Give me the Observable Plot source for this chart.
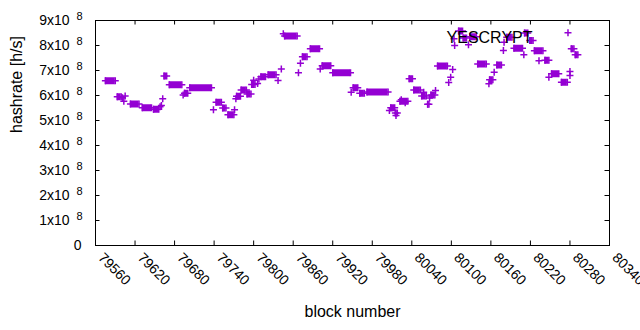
<!DOCTYPE html>
<html><head><meta charset="utf-8">
<script src="https://cdn.jsdelivr.net/npm/d3@7"></script>
<script src="https://cdn.jsdelivr.net/npm/@observablehq/plot@0.6"></script>
<style>
body{margin:0;background:#fff}
svg{font-family:"Liberation Sans",Arial,sans-serif}
</style>
</head><body><div id="chart"></div>
<script>
// Runs of consecutive blocks sharing the same hashrate (units: 1e8 h/s)
const runStart = [79575,79593,79613,79631,79648,79664,79672,79695,79703,79743,79753,79761,79774,79781,79790,79797,79811,79822,79847,79874,79886,79904,79920,79951,79961,79972,80008,80015,80022,80036,80043,80055,80064,80069,80079,80111,80118,80128,80140,80158,80169,80184,80195,80211,80219,80226,80242,80252,80267,80282,80288];
const runEnd   = [79590,79599,79626,79645,79656,79668,79691,79700,79736,79751,79758,79770,79780,79789,79796,79802,79818,79834,79866,79881,79900,79917,79947,79958,79968,80004,80014,80018,80034,80041,80053,80062,80066,80075,80094,80117,80123,80138,80153,80163,80176,80192,80208,80216,80224,80239,80248,80263,80276,80286,80292];
const runValue = [6.59,5.95,5.66,5.51,5.45,6.78,6.43,6.09,6.31,5.73,5.50,5.23,5.97,6.22,6.06,6.44,6.75,6.83,8.38,7.55,7.87,7.19,6.91,6.31,6.09,6.14,5.51,5.30,5.77,6.67,6.22,5.98,5.65,6.02,7.18,8.58,8.30,8.35,7.26,6.63,7.22,8.33,7.89,8.50,8.20,7.79,7.41,6.87,6.53,7.87,7.63];

// Isolated blocks
const pointBlock = [79601,79603,79605,79658,79660,79662,79693,79739,79771,79773,79800,79806,79808,79837,79842,79845,79868,79871,79901,79948,80006,80016,80024,80030,80058,80067,80076,80096,80099,80102,80104,80105,80126,80157,80165,80179,80180,80210,80233,80248,80277,80280,80280];
const pointValue = [5.91,5.77,5.98,5.55,5.60,5.87,6.02,5.43,5.43,5.87,6.61,6.48,6.66,6.60,7.06,8.47,6.91,7.29,7.06,6.13,5.40,5.20,5.83,5.71,6.13,5.90,6.20,6.52,6.73,7.04,8.27,8.00,8.03,6.47,6.93,7.80,8.13,7.63,7.39,6.73,8.51,6.96,6.80];

const xTicks = [79560,79620,79680,79740,79800,79860,79920,79980,80040,80100,80160,80220,80280,80340];
const yTicks = [0,1,2,3,4,5,6,7,8,9];
const yExponent = "8";
const seriesName = "YESCRYPT";
const xLabel = "block number";
const yLabel = "hashrate [h/s]";

const color = "#9400d3";
const runs = runStart.map((s, i) => ({s, e: runEnd[i], v: runValue[i]}));
const runEnds = runs.flatMap(r => [{x: r.s, y: r.v}, {x: r.e, y: r.v}]);
const points = pointBlock.map((b, i) => ({x: b, y: pointValue[i]}));

const cross = {draw(ctx, size) {
  const r = Math.sqrt(size / Math.PI);
  ctx.moveTo(-r, 0); ctx.lineTo(r, 0);
  ctx.moveTo(0, -r); ctx.lineTo(0, r);
}};

const xMin = xTicks[0], xMax = xTicks[xTicks.length - 1];
const yMin = yTicks[0], yMax = yTicks[yTicks.length - 1];
const tkX = 6.8, tkY = 0.18;
const innerX = xTicks.slice(1, -1), innerY = yTicks.slice(1, -1);

const chart = Plot.plot({
  width: 640, height: 330,
  marginLeft: 95, marginRight: 31, marginTop: 20, marginBottom: 85,
  x: {domain: [xMin, xMax], axis: null},
  y: {domain: [yMin, yMax], axis: null},
  style: {fontFamily: "Liberation Sans, Arial, sans-serif", fontSize: "14px", background: "#fff"},
  marks: [
    Plot.ruleY(runs, {y: "v", x1: "s", x2: "e", stroke: color, strokeWidth: 7}),
    Plot.dot(runEnds, {x: "x", y: "y", symbol: cross, r: 3.5, stroke: color, fill: "none", strokeWidth: 1.5}),
    Plot.dot(points, {x: "x", y: "y", symbol: cross, r: 3.5, stroke: color, fill: "none", strokeWidth: 1.5}),
    // inward ticks, mirrored
    Plot.ruleX(innerX, {x: d => d, y1: yMin, y2: yMin + tkY, stroke: "black"}),
    Plot.ruleX(innerX, {x: d => d, y1: yMax - tkY, y2: yMax, stroke: "black"}),
    Plot.ruleY(innerY, {y: d => d, x1: xMin, x2: xMin + tkX, stroke: "black"}),
    Plot.ruleY(innerY, {y: d => d, x1: xMax - tkX, x2: xMax, stroke: "black"}),
    Plot.frame({stroke: "black", strokeWidth: 1}),
    // x tick labels
    Plot.text(xTicks, {x: d => d, frameAnchor: "bottom", text: d => String(d), rotate: 45, textAnchor: "start", dx: 2, dy: 13, fontSize: 14, fill: "#000"}),
    // y tick labels
    Plot.text(yTicks.filter(d => d === 0), {y: d => d, frameAnchor: "left", text: d => String(d), textAnchor: "end", dx: -14, fontSize: 14, fill: "#000"}),
    Plot.text(yTicks.filter(d => d !== 0), {y: d => d, frameAnchor: "left", text: d => `${d}x10`, textAnchor: "end", dx: -26, fontSize: 14, fill: "#000"}),
    Plot.text(yTicks.filter(d => d !== 0), {y: d => d, frameAnchor: "left", text: () => yExponent, textAnchor: "end", dx: -13, dy: -4, fontSize: 11, fill: "#000"}),
    // axis titles and key
    Plot.text([xLabel], {frameAnchor: "bottom", dy: 71, fontSize: 16, fill: "#000"}),
    Plot.text([yLabel], {frameAnchor: "left", dx: -79, rotate: -90, fontSize: 16, fill: "#000"}),
    Plot.text([seriesName], {frameAnchor: "top-right", dx: -77, dy: 11, textAnchor: "end", fontSize: 16, fill: "#000"})
  ]
});
document.getElementById("chart").append(chart);
</script>
</body></html>
